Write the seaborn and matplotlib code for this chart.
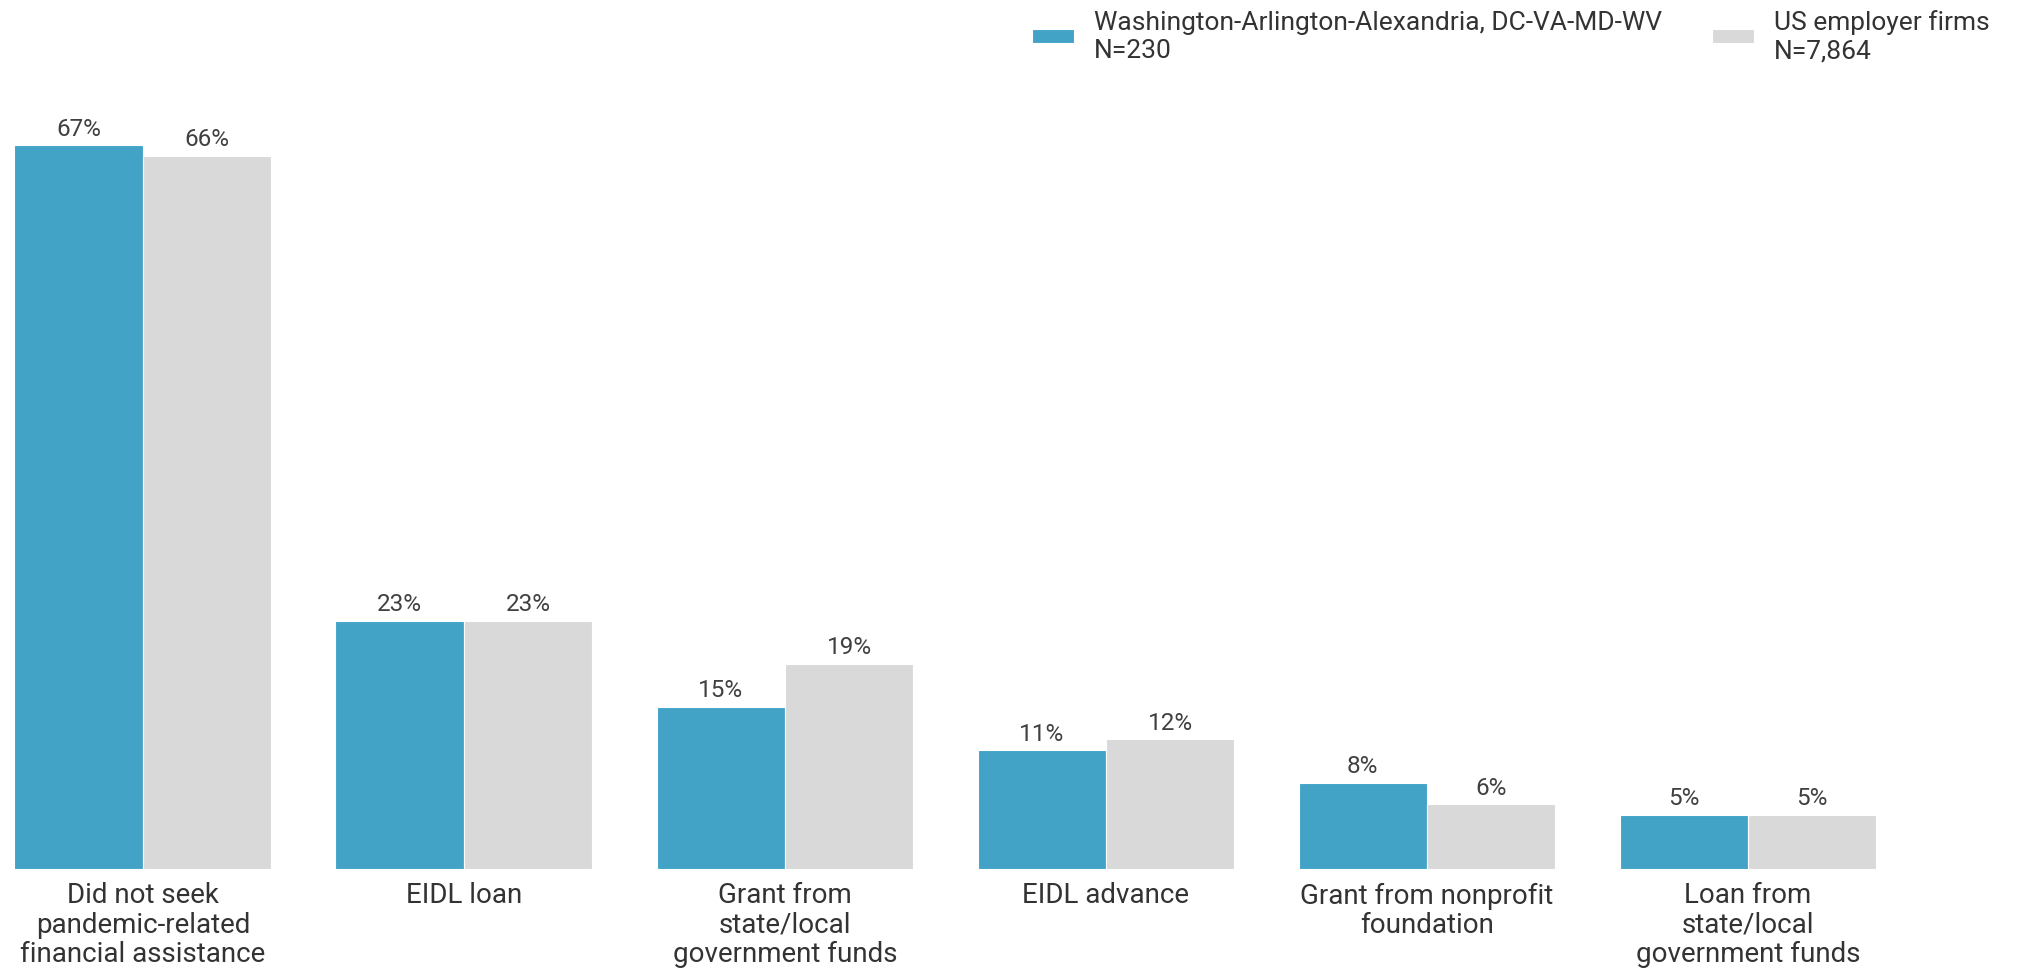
import matplotlib
matplotlib.use('Agg')
import matplotlib.pyplot as plt
import seaborn as sns
import pandas as pd

# Data
categories = [
    "Did not seek\npandemic-related\nfinancial assistance",
    "EIDL loan",
    "Grant from\nstate/local\ngovernment funds",
    "EIDL advance",
    "Grant from nonprofit\nfoundation",
    "Loan from\nstate/local\ngovernment funds",
]
series_names = [
    "Washington-Arlington-Alexandria, DC-VA-MD-WV\nN=230",
    "US employer firms\nN=7,864",
]
dc_values = [67, 23, 15, 11, 8, 5]
us_values = [66, 23, 19, 12, 6, 5]
colors = ["#42A3C7", "#D9D9D9"]

df = pd.DataFrame({
    "category": categories * 2,
    "series": [series_names[0]] * len(categories) + [series_names[1]] * len(categories),
    "value": dc_values + us_values,
})

sns.set_theme(style="white")
plt.rcParams['font.family'] = ['Roboto', 'DejaVu Sans']

fig = plt.figure(figsize=(20.36, 9.70), dpi=100)
ax = fig.add_axes([0.0, 100 / 970, 1.0, 0.80])

sns.barplot(
    data=df, x="category", y="value", hue="series",
    palette=colors, saturation=1, width=0.8, edgecolor="white", linewidth=0.8,
    ax=ax, legend=True,
)

for cont in ax.containers:
    ax.bar_label(cont, fmt="%d%%", padding=4, fontsize=17.5, color="#404040")

ax.set_xlim(-0.445, 5.897)
ax.set_ylim(0, 775 / 10.79)
ax.set_xlabel("")
ax.set_ylabel("")
ax.set_yticks([])
ax.tick_params(axis="x", labelsize=20, colors="#333333", length=0, pad=9)
for lbl in ax.get_xticklabels():
    lbl.set_linespacing(1.1)
for s in ax.spines.values():
    s.set_visible(False)

handles, labels = ax.get_legend_handles_labels()
ax.legend(
    handles, labels, ncol=2, frameon=False, fontsize=19,
    loc="upper right", bbox_to_anchor=(2000 / 2036, 1.0), bbox_transform=fig.transFigure,
    handlelength=1.6, handleheight=0.45, handletextpad=0.75, columnspacing=1.9,
    labelcolor="#333333", borderaxespad=0.0,
)

fig.savefig("out.png", dpi=100)
